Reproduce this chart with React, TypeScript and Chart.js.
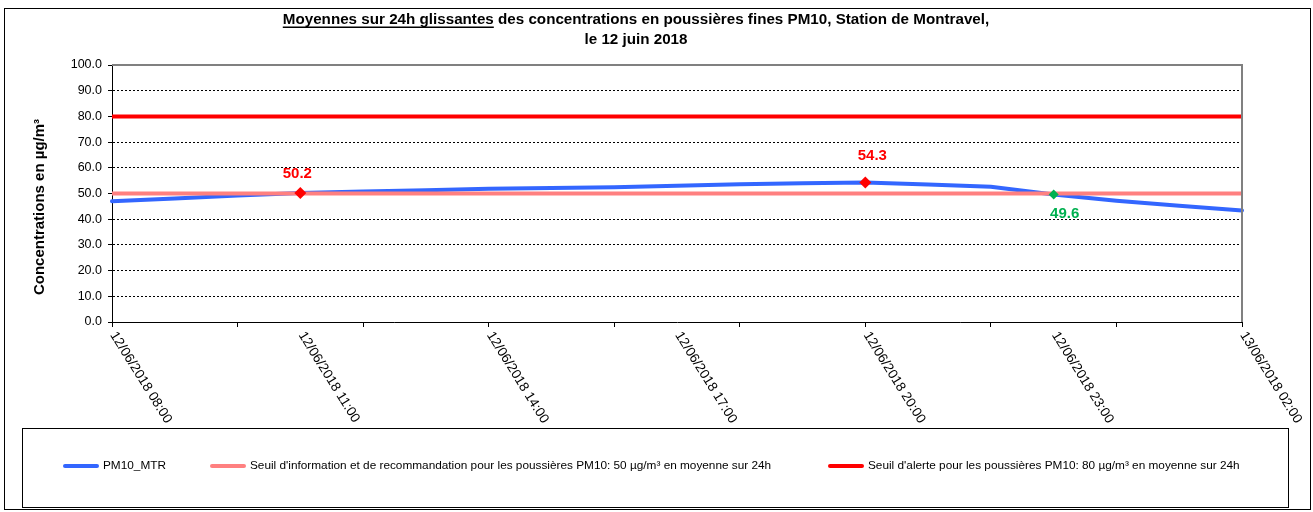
import React, { useEffect, useRef } from "react";
import { Chart, registerables } from "chart.js";

Chart.register(...registerables);

// ---------- DATA ----------
const timeLabels = [
  "12/06/2018 08:00", "12/06/2018 09:00", "12/06/2018 10:00", "12/06/2018 11:00",
  "12/06/2018 12:00", "12/06/2018 13:00", "12/06/2018 14:00", "12/06/2018 15:00",
  "12/06/2018 16:00", "12/06/2018 17:00", "12/06/2018 18:00", "12/06/2018 19:00",
  "12/06/2018 20:00", "12/06/2018 21:00", "12/06/2018 22:00", "12/06/2018 23:00",
  "13/06/2018 00:00", "13/06/2018 01:00", "13/06/2018 02:00",
];
const pm10Mtr = [47.0, 48.1, 49.2, 50.2, 50.8, 51.3, 51.8, 52.1, 52.4, 53.0, 53.6, 54.0, 54.3, 53.5, 52.6, 49.6, 47.2, 45.2, 43.4];
const infoThreshold = [50, 50, 50, 50, 50, 50, 50, 50, 50, 50, 50, 50, 50, 50, 50, 50, 50, 50, 50];
const alertThreshold = [80, 80, 80, 80, 80, 80, 80, 80, 80, 80, 80, 80, 80, 80, 80, 80, 80, 80, 80];
const redHighlights = [null, null, null, 50.2, null, null, null, null, null, null, null, null, 54.3, null, null, null, null, null, null];
const greenHighlights = [null, null, null, null, null, null, null, null, null, null, null, null, null, null, null, 49.6, null, null, null];
const yTickValues = ["0.0", "10.0", "20.0", "30.0", "40.0", "50.0", "60.0", "70.0", "80.0", "90.0", "100.0"];

const seriesNames = [
  "PM10_MTR",
  "Seuil d'information et de recommandation pour les poussières PM10: 50 µg/m³ en moyenne sur 24h",
  "Seuil d'alerte pour les poussières PM10: 80 µg/m³ en moyenne sur 24h",
];
const titleUnderlined = "Moyennes sur 24h glissantes";
const titleRest = " des concentrations en poussières fines PM10, Station de Montravel,";
const titleLine2 = "le 12 juin 2018";
const yAxisTitle = "Concentrations en µg/m³";

// ---------- STYLE / LAYOUT ----------
const W = 1313;
const H = 512;
const FONT = "'Liberation Sans', Arial, sans-serif";
const colors = { pm10: "#3366FF", info: "#FF8080", alert: "#FF0000", red: "#FF0000", green: "#00B050" };
// label offsets for highlighted points (dx, dy) in px, by order of appearance
const redLabelOffsets = [[-3, -19], [7, -27]];
const greenLabelOffsets = [[11, 19]];
const legendLayout = { left: 22, top: 428, right: 1288, bottom: 507, y: 466, itemX: [63, 210, 828], sample: 36, gap: 4 };

const overlay = {
  id: "overlay",
  beforeDraw(chart: any) {
    const ctx = chart.ctx;
    ctx.save();
    ctx.fillStyle = "#fff";
    ctx.fillRect(0, 0, W, H);
    ctx.restore();
  },
  afterDraw(chart: any) {
    const ctx: CanvasRenderingContext2D = chart.ctx;
    const a = chart.chartArea;
    const xs = chart.scales.x;
    ctx.save();

    // outer border
    ctx.strokeStyle = "#000";
    ctx.lineWidth = 1;
    ctx.strokeRect(4.5, 8.5, 1306, 501);

    // plot area top/right border (gray)
    ctx.strokeStyle = "#808080";
    ctx.lineWidth = 2;
    ctx.beginPath();
    ctx.moveTo(a.left, a.top);
    ctx.lineTo(a.right, a.top);
    ctx.lineTo(a.right, a.bottom);
    ctx.stroke();

    // rotated x labels every 3 hours
    ctx.fillStyle = "#000";
    ctx.font = `13.5px ${FONT}`;
    ctx.textAlign = "left";
    ctx.textBaseline = "middle";
    timeLabels.forEach((lab, i) => {
      if (i % 3 !== 0) return;
      const x = xs.getPixelForValue(i);
      ctx.save();
      ctx.translate(x + 1, a.bottom + 11);
      ctx.rotate((58 * Math.PI) / 180);
      ctx.fillText(lab, 0, 0);
      ctx.restore();
    });

    // y axis title
    ctx.save();
    ctx.font = `bold 15px ${FONT}`;
    ctx.textAlign = "center";
    ctx.textBaseline = "middle";
    ctx.translate(40, 207);
    ctx.rotate(-Math.PI / 2);
    ctx.fillText(yAxisTitle, 0, 0);
    ctx.restore();

    // title
    ctx.font = `bold 15.2px ${FONT}`;
    ctx.textBaseline = "alphabetic";
    ctx.textAlign = "left";
    const w1 = ctx.measureText(titleUnderlined).width;
    const w2 = ctx.measureText(titleRest).width;
    const cx = 636;
    const sx = cx - (w1 + w2) / 2;
    ctx.fillText(titleUnderlined, sx, 23.5);
    ctx.fillText(titleRest, sx + w1, 23.5);
    ctx.fillRect(sx, 26.5, w1, 1.5);
    ctx.textAlign = "center";
    ctx.fillText(titleLine2, cx, 43.5);

    // legend box
    const L = legendLayout;
    ctx.strokeStyle = "#000";
    ctx.lineWidth = 1;
    ctx.strokeRect(L.left + 0.5, L.top + 0.5, L.right - L.left, L.bottom - L.top);
    ctx.font = `11.8px ${FONT}`;
    ctx.textAlign = "left";
    ctx.textBaseline = "middle";
    [0, 1, 2].forEach((di) => {
      const ds = chart.data.datasets[di];
      const x0 = L.itemX[di];
      ctx.strokeStyle = ds.borderColor;
      ctx.lineWidth = 4;
      ctx.lineCap = "round";
      ctx.beginPath();
      ctx.moveTo(x0 + 2, L.y);
      ctx.lineTo(x0 + L.sample - 2, L.y);
      ctx.stroke();
      ctx.fillStyle = "#000";
      ctx.fillText(ds.label, x0 + L.sample + L.gap, L.y);
    });

    // data labels for highlighted points
    ctx.font = `bold 15px ${FONT}`;
    ctx.textAlign = "center";
    ctx.textBaseline = "middle";
    const drawLabels = (di: number, offsets: number[][], color: string) => {
      const meta = chart.getDatasetMeta(di);
      const vals = chart.data.datasets[di].data;
      let k = 0;
      vals.forEach((v: any, i: number) => {
        if (v == null) return;
        const el = meta.data[i];
        const [dx, dy] = offsets[k] || [0, -20];
        k++;
        ctx.fillStyle = color;
        ctx.fillText(Number(v).toFixed(1), el.x + dx, el.y + dy);
      });
    };
    drawLabels(3, redLabelOffsets, colors.red);
    drawLabels(4, greenLabelOffsets, colors.green);

    ctx.restore();
  },
};

export default function App() {
  const ref = useRef<HTMLCanvasElement>(null);
  useEffect(() => {
    if (!ref.current) return;
    const chart = new Chart(ref.current, {
      type: "line",
      data: {
        labels: timeLabels,
        datasets: [
          { label: seriesNames[0], data: pm10Mtr, borderColor: colors.pm10, backgroundColor: colors.pm10, borderWidth: 4, pointRadius: 0, tension: 0, order: 3, borderCapStyle: "round" },
          { label: seriesNames[1], data: infoThreshold, borderColor: colors.info, backgroundColor: colors.info, borderWidth: 4, pointRadius: 0, order: 2 },
          { label: seriesNames[2], data: alertThreshold, borderColor: colors.alert, backgroundColor: colors.alert, borderWidth: 4, pointRadius: 0, order: 1 },
          { label: "max", data: redHighlights as any, showLine: false, pointStyle: "rectRot", pointRadius: 6, backgroundColor: colors.red, borderColor: colors.red, borderWidth: 0, order: 0 },
          { label: "min", data: greenHighlights as any, showLine: false, pointStyle: "rectRot", pointRadius: 5, backgroundColor: colors.green, borderColor: colors.green, borderWidth: 0, order: 0 },
        ],
      },
      options: {
        responsive: false,
        animation: false,
        devicePixelRatio: 1,
        layout: { padding: { top: 65, left: 0, right: W - 1242, bottom: 170 } },
        plugins: { legend: { display: false }, tooltip: { enabled: false }, title: { display: false } },
        scales: {
          x: {
            type: "category",
            offset: false,
            grid: {
              drawOnChartArea: false,
              drawTicks: true,
              tickLength: 5,
              tickColor: (c: any) => (c.index % 2 === 0 ? "#000" : "rgba(0,0,0,0)"),
            },
            border: { display: true, color: "#000", width: 1 },
            ticks: { display: false, autoSkip: false },
            afterFit: (s: any) => { s.height = H - 170 - 322; },
          },
          y: {
            min: 0,
            max: 100,
            grid: {
              color: (c: any) => (c.tick && (c.tick.value === 0 || c.tick.value === 100) ? "rgba(0,0,0,0)" : "#000"),
              lineWidth: 1,
              tickLength: 4,
              tickColor: "#000",
            },
            border: { display: true, color: "#000", width: 1, dash: [2, 2] },
            ticks: {
              stepSize: 10,
              padding: 6,
              color: "#000",
              font: { family: FONT, size: 12.5 },
              callback: (v: any) => yTickValues[Math.round(Number(v) / 10)],
            },
            afterFit: (s: any) => { s.width = 112; },
          },
        },
      },
      plugins: [overlay],
    });
    return () => chart.destroy();
  }, []);
  return (
    <div style={{ position: "absolute", left: 0, top: 0, width: W, height: H, background: "#fff" }}>
      <canvas ref={ref} width={W} height={H} style={{ display: "block" }} />
    </div>
  );
}
